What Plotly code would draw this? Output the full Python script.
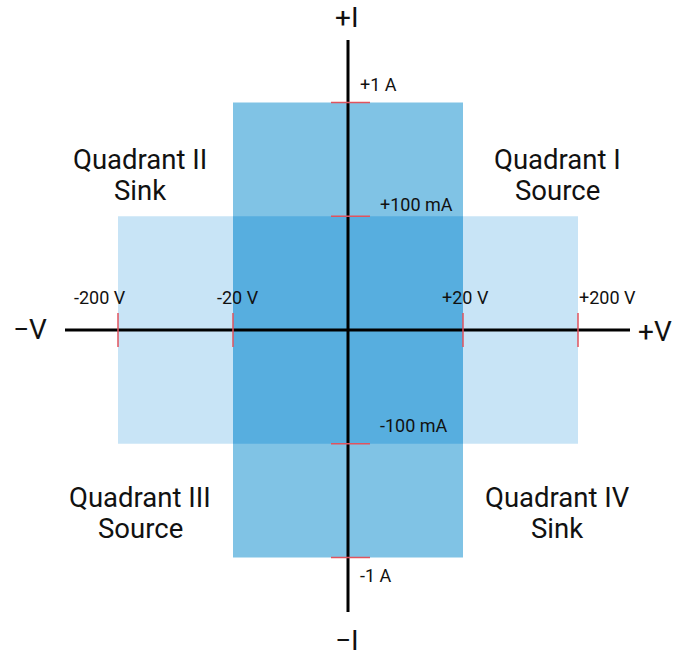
import plotly.graph_objects as go

# ---- data ----
voltage_labels = ["-200 V", "-20 V", "+20 V", "+200 V"]
voltage_levels = [-2, -1, 1, 2]          # schematic (log-like) positions
current_labels = ["+1 A", "+100 mA", "-100 mA", "-1 A"]
current_levels = [2, 1, -1, -2]
quadrant_titles = ["Quadrant I", "Quadrant II", "Quadrant III", "Quadrant IV"]
quadrant_modes = ["Source", "Sink", "Source", "Sink"]
axis_names = ["+V", "−V", "+I", "−I"]

# ranges of the two operating regions (level units)
wide_v = (-2, 2); wide_i = (-1, 1)      # ±200 V, ±100 mA
tall_v = (-1, 1); tall_i = (-2, 2)      # ±20 V, ±1 A

# ---- layout geometry ----
W, H = 674, 658
cx, cy = 348, 330
ux, uy = 115.0, 113.8
xr = [-cx / ux, (W - cx) / ux]
yr = [(cy - H) / uy, cy / uy]

def px2x(px):
    return (px - cx) / ux

def py2y(py):
    return (cy - py) / uy

fig = go.Figure()

light = "#C8E4F6"
mid = "#80C3E5"
dark = "#57AEDF"
red = "#E0535E"
ink = "#111111"

def rect(v, i, color):
    fig.add_shape(type="rect", x0=v[0], x1=v[1], y0=i[0], y1=i[1],
                  fillcolor=color, line=dict(width=0), layer="below")

rect(wide_v, wide_i, light)
rect(tall_v, tall_i, mid)
ov = (max(wide_v[0], tall_v[0]), min(wide_v[1], tall_v[1]))
oi = (max(wide_i[0], tall_i[0]), min(wide_i[1], tall_i[1]))
rect(ov, oi, dark)

# axes lines
fig.add_trace(go.Scatter(x=[px2x(65), px2x(630)], y=[0, 0], mode="lines",
                         line=dict(color="black", width=3), hoverinfo="skip"))
fig.add_trace(go.Scatter(x=[0, 0], y=[py2y(612), py2y(40)], mode="lines",
                         line=dict(color="black", width=3), hoverinfo="skip"))

# red ticks
tx = 17 / uy
for v in voltage_levels:
    fig.add_trace(go.Scatter(x=[v, v], y=[-tx, tx], mode="lines",
                             line=dict(color=red, width=1.5), hoverinfo="skip"))
for i in current_levels:
    fig.add_trace(go.Scatter(x=[-17 / ux, 22 / ux], y=[i, i], mode="lines",
                             line=dict(color=red, width=1.5), hoverinfo="skip"))

font = "Roboto"
# voltage labels
v_xc = [100, 238, 465, 607]
for lab, xc in zip(voltage_labels, v_xc):
    fig.add_annotation(x=px2x(xc), y=py2y(297), text=lab, showarrow=False,
                       font=dict(family=font, size=18, color=ink))
# current labels
i_left = [358, 378, 378, 358]
i_yc = [84, 204, 425, 575]
for lab, xl, yc in zip(current_labels, i_left, i_yc):
    fig.add_annotation(x=px2x(xl), y=py2y(yc), text=lab, showarrow=False,
                       xanchor="left", font=dict(family=font, size=18, color=ink))

# quadrant labels (two lines each, tight leading)
q_xc = [557, 140, 140, 557]
q_y1 = [159, 159, 497, 497]
for t, m, xc, y1 in zip(quadrant_titles, quadrant_modes, q_xc, q_y1):
    fig.add_annotation(x=px2x(xc), y=py2y(y1), text=t, showarrow=False,
                       font=dict(family=font, size=27.5, color=ink))
    fig.add_annotation(x=px2x(xc), y=py2y(y1 + 31), text=m, showarrow=False,
                       font=dict(family=font, size=27.5, color=ink))

# axis end labels
apos = [(655, 331), (30, 329), (347, 17), (347, 640)]
for t, (px, py) in zip(axis_names, apos):
    fig.add_annotation(x=px2x(px), y=py2y(py), text=t, showarrow=False,
                       font=dict(family=font, size=28, color=ink))

fig.update_layout(width=W, height=H, margin=dict(l=0, r=0, t=0, b=0),
                  paper_bgcolor="white", plot_bgcolor="white", showlegend=False,
                  xaxis=dict(range=xr, visible=False, fixedrange=True),
                  yaxis=dict(range=yr, visible=False, fixedrange=True))
fig.write_html("out.html", config={"displayModeBar": False},
               post_script="document.body.style.margin='0px';document.body.style.overflow='hidden';")
